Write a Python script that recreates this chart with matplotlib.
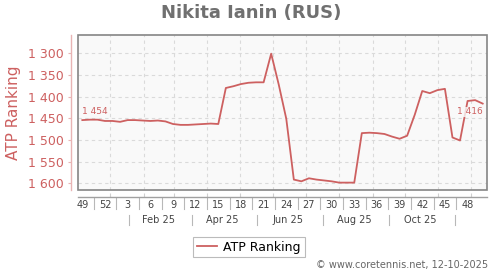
import numpy as np
import matplotlib
matplotlib.use("Agg")
import matplotlib.pyplot as plt
import matplotlib.transforms as mtransforms
from matplotlib.patches import Rectangle

# ---------------- data ----------------
title = "Nikita Ianin (RUS)"
series_name = "ATP Ranking"
start_date = np.datetime64("2024-12-02")  # Monday of week 49 / 2024
rankings = [1454, 1453, 1453, 1456, 1456, 1458, 1454, 1454, 1455, 1456,
            1455, 1457, 1463, 1465, 1465, 1464, 1463, 1462, 1463, 1380,
            1376, 1371, 1368, 1367, 1367, 1301, 1372, 1451, 1591, 1595,
            1588, 1591, 1593, 1595, 1598, 1598, 1598, 1484, 1483, 1484,
            1486, 1492, 1497, 1490, 1442, 1387, 1392, 1385, 1382, 1494,
            1501, 1410, 1408, 1416]
week_labels = ["49", "52", "3", "6", "9", "12", "15", "18", "21", "24",
               "27", "30", "33", "36", "39", "42", "45", "48"]
week_label_index = [0, 3, 6, 9, 12, 15, 18, 21, 24, 27, 30, 33, 36, 39, 42, 45, 48, 51]
month_labels = ["Feb 25", "Apr 25", "Jun 25", "Aug 25", "Oct 25"]
month_label_dates = ["2025-02-15", "2025-04-15", "2025-06-15", "2025-08-15", "2025-10-15"]
month_grid_dates = ["2025-%02d-01" % m for m in range(1, 13)]
yticks = [1300, 1350, 1400, 1450, 1500, 1550, 1600]
credit = "\u00a9 www.coretennis.net, 12-10-2025"

# ---------------- helpers ----------------
def day(d):
    return float((np.datetime64(d) - start_date) / np.timedelta64(1, "D"))

x = np.array([7 * i + 4 for i in range(len(rankings))], dtype=float)
y = np.array(rankings, dtype=float)

red = "#cd6060"
pink = "#e8b4b4"
grid_c = "#dadada"

fig = plt.figure(figsize=(5, 2.7), dpi=100)
ax = fig.add_axes([78 / 500, 1 - 190 / 270, 409 / 500, 155 / 270])
ax.set_facecolor("#f9f9f9")

ax.plot(x, y, color=red, lw=1.3, label=series_name, zorder=3)

ax.set_xlim(0, 379)
ax.set_ylim(1615, 1258)

# grid
ax.set_yticks(yticks)
ax.set_yticklabels([f"{v:,}".replace(",", " ") for v in yticks])
ax.set_xticks([day(d) for d in month_grid_dates])
ax.set_xticklabels([])
ax.grid(True, color=grid_c, linestyle=(0, (3, 3)), lw=0.8)
ax.set_axisbelow(True)

# frame
for s in ["top", "right"]:
    ax.spines[s].set_visible(False)
ax.add_patch(Rectangle((0, 0), 1, 1, transform=ax.transAxes, fill=False,
                       edgecolor="#858585", lw=1.2, zorder=4, clip_on=False))
ax.spines["left"].set_position(("outward", 5))
ax.spines["left"].set_color(pink)
ax.spines["left"].set_linewidth(1.0)
ax.spines["bottom"].set_position(("outward", 5))
ax.spines["bottom"].set_color("#a0a0a0")
ax.spines["bottom"].set_linewidth(1.0)

ax.tick_params(axis="y", direction="out", length=2.5, width=0.8, color=pink,
               labelcolor=red, labelsize=9, pad=2.5)
ax.tick_params(axis="x", direction="in", length=3, width=0.8, color="#d0d0d0",
               labelbottom=False)

ax.set_ylabel(series_name, color=red, fontsize=11)
ax.yaxis.set_label_coords(-0.140, 0.5)

# x label rows
trans = mtransforms.blended_transform_factory(ax.transData, ax.transAxes)
wk_pos = [x[i] for i in week_label_index]
for xp, lab in zip(wk_pos, week_labels):
    ax.text(xp, -0.097, lab, transform=trans, ha="center", va="center",
            fontsize=7, color="#444444", clip_on=False)
for a, b in zip(wk_pos[:-1], wk_pos[1:]):
    xm = (a + b) / 2
    ax.plot([xm, xm], [-0.053, -0.123], transform=trans, color="#b8b8b8",
            lw=0.8, clip_on=False)

mpos = [day(d) for d in month_label_dates]
for xp, lab in zip(mpos, month_labels):
    ax.text(xp, -0.194, lab, transform=trans, ha="center", va="center",
            fontsize=7, color="#444444", clip_on=False)
msep = [mpos[0] - (mpos[1] - mpos[0]) / 2]
msep += [(a + b) / 2 for a, b in zip(mpos[:-1], mpos[1:])]
msep += [mpos[-1] + (mpos[-1] - mpos[-2]) / 2]
for xm in msep:
    ax.plot([xm + 1.5, xm + 1.5], [-0.16, -0.228], transform=trans, color="#b8b8b8",
            lw=0.8, clip_on=False)

# value annotations
ax.annotate(f"{rankings[0]:,}".replace(",", " "), (x[0], y[0]), xytext=(0, 6.5),
            textcoords="offset points", ha="left", va="center", fontsize=6.5,
            color=red, zorder=5)
ax.annotate(f"{rankings[-1]:,}".replace(",", " "), (x[-1], y[-1]), xytext=(0, -6),
            textcoords="offset points", ha="right", va="center", fontsize=6.5,
            color=red, zorder=5,
            bbox=dict(boxstyle="square,pad=0.1", fc="#f9f9f9", ec="none", alpha=0.8))

# title
fig.text(0.502, 1 - 13 / 270, title, ha="center", va="center", fontsize=13,
         fontweight="bold", color="#707070")

# legend
leg = fig.legend(loc="center", bbox_to_anchor=(249 / 500, 1 - 247 / 270),
                 fontsize=9, frameon=True, fancybox=False, handlelength=1.6,
                 handletextpad=0.5, borderpad=0.3, borderaxespad=0)
leg.get_frame().set_edgecolor("#aaaaaa")
leg.get_frame().set_linewidth(0.8)

fig.text(488 / 500, 1 - 265 / 270, credit, ha="right", va="center", fontsize=7,
         color="#666666")

fig.savefig("out.png", dpi=100)
